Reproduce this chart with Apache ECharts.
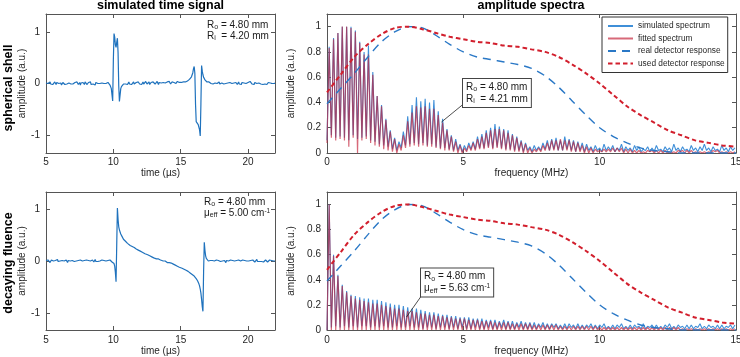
<!DOCTYPE html>
<html><head><meta charset="utf-8">
<script src="https://cdn.jsdelivr.net/npm/echarts@6/dist/echarts.min.js"></script>
<style>html,body{margin:0;padding:0;background:#fff}#c{width:740px;height:357px}</style>
</head><body><div id="c"></div>
<script>
// ---------- time signals (t from 5.00 µs, 0.05 µs step) ----------
const timeStart = 5, timeStep = 0.05;
const shellSignal = [
 0.01,-0.02,0.02,0.00,-0.03,0.01,0.03,-0.01,0.00,0.02,-0.02,0.01,-0.01,0.03,0.00,-0.02,0.02,-0.01,0.01,0.00,
 -0.02,0.02,0.01,-0.03,0.00,0.02,-0.01,0.03,-0.02,0.00,0.01,-0.01,0.02,-0.03,0.01,0.00,0.03,-0.01,0.00,0.02,
 -0.01,0.01,-0.02,0.02,0.00,-0.01,0.03,0.01,-0.02,0.00,0.02,-0.03,0.01,0.00,-0.01,0.02,0.01,-0.02,0.03,0.00,
 0.01,-0.02,0.00,0.02,-0.01,0.01,0.03,-0.02,0.00,0.01,-0.01,0.02,0.00,-0.03,0.02,0.01,-0.01,0.00,0.02,-0.02,
 0.00,0.02,-0.01,0.01,-0.02,0.03,0.00,-0.01,0.02,0.00,-0.02,0.01,0.02,-0.01,0.00,-0.03,-0.05,-0.10,-0.22,-0.34,
 0.45,0.97,0.90,0.75,0.70,0.80,0.88,0.60,-0.05,-0.35,-0.22,-0.10,-0.06,-0.03,-0.04,-0.01,-0.02,0.01,-0.01,0.02,
 0.00,-0.02,0.01,0.03,-0.01,0.00,0.02,-0.02,0.01,0.00,0.03,-0.01,0.01,-0.02,0.02,0.00,-0.01,0.03,0.01,-0.01,
 0.02,0.00,-0.02,0.01,0.03,-0.01,0.00,0.02,0.04,0.01,-0.01,0.02,0.00,0.03,-0.02,0.01,0.02,0.00,-0.01,0.03,
 0.01,0.03,-0.01,0.02,0.00,0.04,0.01,-0.02,0.02,0.03,0.00,0.01,-0.01,0.03,0.02,0.00,0.04,0.01,-0.01,0.02,
 0.03,0.00,0.02,0.04,0.01,-0.01,0.02,0.03,0.00,0.04,0.02,0.01,0.03,0.00,0.02,0.04,0.01,0.03,0.02,0.00,
 0.03,0.02,0.04,0.01,0.03,0.02,0.05,0.03,0.04,0.06,0.05,0.07,0.06,0.08,0.09,0.11,0.13,0.16,0.21,0.29,
 0.33,0.20,-0.40,-0.74,-0.72,-0.76,-0.80,-0.78,-0.90,-1.02,-0.40,0.35,0.24,0.17,0.12,0.09,0.07,0.05,0.06,0.03,
 0.04,0.02,0.03,0.01,0.03,0.00,0.02,0.01,-0.01,0.02,0.00,0.01,-0.02,0.02,0.00,-0.01,0.01,0.03,-0.01,0.00,
 -0.02,0.01,0.00,0.02,-0.01,0.01,-0.03,0.00,0.02,-0.01,0.01,0.00,-0.02,0.02,0.01,-0.01,0.00,0.02,-0.02,0.01,
 0.00,-0.01,0.02,0.00,-0.02,0.01,0.03,-0.01,0.00,0.01,-0.02,0.02,0.00,-0.01,0.01,-0.02,0.02,0.00,0.01,-0.01,
 0.02,0.00,-0.01,0.04,0.06,0.02,-0.01,0.01,0.00,-0.02,0.02,0.01,-0.01,0.00,0.02,-0.02,0.01,0.00,0.03,-0.01,
 0.00,0.02,-0.02,0.01,0.00,-0.01,0.02,0.00,-0.02,0.01,0.02,-0.01,0.00,0.01,-0.02,0.02,0.00,-0.01,0.01,0.00,
 0.01
];
const fluenceSignal = [
 0.01,-0.02,0.00,0.02,-0.01,0.01,-0.03,0.00,0.02,-0.01,0.01,0.00,-0.02,0.02,0.01,-0.01,0.00,0.03,-0.01,0.01,
 -0.02,0.00,0.02,-0.01,0.01,0.03,-0.02,0.00,0.01,-0.01,0.02,0.00,-0.03,0.01,0.02,-0.01,0.00,0.02,-0.02,0.01,
 0.00,0.02,-0.01,0.01,-0.02,0.00,0.03,-0.01,0.01,0.00,-0.02,0.02,0.01,-0.01,0.00,0.02,-0.03,0.01,0.00,-0.01,
 0.02,0.00,-0.01,0.01,0.03,-0.02,0.00,0.01,-0.01,0.02,0.00,-0.02,0.01,0.03,-0.01,0.00,0.02,-0.01,0.01,-0.02,
 0.00,0.01,-0.02,0.02,0.00,-0.01,0.01,0.03,-0.01,0.00,0.02,-0.02,0.01,0.00,-0.01,0.02,-0.01,0.00,-0.02,0.01,
 -0.03,-0.05,-0.10,-0.22,-0.40,0.30,1.02,0.80,0.66,0.60,0.56,0.52,0.49,0.47,0.44,0.42,0.41,0.39,0.38,0.36,
 0.36,0.34,0.34,0.32,0.32,0.30,0.31,0.29,0.28,0.28,0.27,0.26,0.25,0.25,0.23,0.23,0.22,0.21,0.20,0.20,
 0.19,0.19,0.18,0.17,0.17,0.16,0.16,0.14,0.15,0.13,0.13,0.12,0.11,0.12,0.10,0.10,0.09,0.08,0.08,0.07,
 0.06,0.07,0.05,0.05,0.04,0.05,0.03,0.04,0.02,0.03,0.02,0.02,0.01,0.01,0.00,0.01,-0.01,0.00,-0.02,-0.02,
 -0.03,-0.02,-0.04,-0.03,-0.04,-0.05,-0.04,-0.06,-0.05,-0.06,-0.07,-0.07,-0.08,-0.08,-0.09,-0.10,-0.10,-0.11,-0.12,-0.12,
 -0.13,-0.13,-0.14,-0.15,-0.15,-0.16,-0.17,-0.17,-0.18,-0.19,-0.19,-0.20,-0.21,-0.22,-0.23,-0.24,-0.25,-0.26,-0.27,-0.28,
 -0.29,-0.31,-0.32,-0.34,-0.36,-0.38,-0.41,-0.44,-0.48,-0.54,-0.62,-0.74,-0.88,-0.97,-0.20,0.36,0.20,0.10,0.05,0.03,
 0.02,0.00,0.02,-0.01,0.01,0.00,-0.02,0.01,0.02,-0.01,0.00,0.01,-0.02,0.02,0.00,-0.01,0.01,0.00,0.02,-0.01,
 0.01,-0.02,0.00,0.02,-0.01,0.01,0.00,-0.03,0.01,0.02,-0.01,0.00,0.01,-0.02,0.02,0.00,-0.01,0.01,0.03,-0.01,
 0.00,0.02,-0.01,0.01,-0.02,0.00,0.02,-0.01,0.01,0.00,-0.02,0.01,0.02,-0.01,0.00,0.01,-0.02,0.02,0.00,-0.01,
 0.01,0.00,-0.02,0.02,0.01,-0.01,0.00,0.02,-0.01,0.01,-0.02,0.00,0.01,0.03,-0.01,0.00,0.02,-0.01,0.01,0.00,
 -0.01,0.02,0.00,-0.02,0.01,0.00,0.02,-0.01,0.01,-0.02,0.00,0.01,0.02,-0.01,0.00,0.01,-0.02,0.01,0.00,0.01,
 0.00
];

// ---------- spectra: troughs at 0.16k MHz, peaks at 0.08+0.16k MHz ----------
const freqStep = 0.08;
const shellSimPeaks = [
 0.84,0.91,0.95,1.00,1.00,1.00,0.97,0.88,0.80,0.85,
 0.64,0.45,0.38,0.27,0.18,0.12,0.09,0.17,0.29,0.38,
 0.44,0.41,0.43,0.40,0.42,0.33,0.27,0.19,0.14,0.11,
 0.07,0.06,0.08,0.09,0.13,0.15,0.18,0.20,0.23,0.21,
 0.19,0.18,0.15,0.13,0.10,0.08,0.05,0.06,0.05,0.08,
 0.10,0.11,0.12,0.10,0.13,0.11,0.10,0.09,0.08,0.07,
 0.05,0.06,0.04,0.07,0.05,0.06,0.04,0.07,0.05,0.04,
 0.06,0.05,0.03,0.05,0.04,0.06,0.03,0.05,0.04,0.07,
 0.04,0.05,0.03,0.06,0.04,0.05,0.07,0.04,0.05,0.03,
 0.06,0.04,0.05,0.04
];
const shellSimTroughs = [
 0.10,0.14,0.12,0.13,0.12,0.10,0.14,0.11,0.12,0.13,
 0.10,0.09,0.07,0.06,0.05,0.03,0.02,0.04,0.06,0.07,
 0.08,0.07,0.08,0.06,0.07,0.05,0.04,0.04,0.03,0.02,
 0.02,0.01,0.02,0.03,0.03,0.04,0.04,0.05,0.04,0.05,
 0.04,0.03,0.03,0.02,0.02,0.01,0.02,0.01,0.02,0.02,
 0.03,0.02,0.03,0.02,0.02,0.03,0.02,0.01,0.02,0.01,
 0.02,0.01,0.02,0.01,0.02,0.02,0.01,0.02,0.01,0.02,
 0.01,0.02,0.01,0.02,0.01,0.01,0.02,0.01,0.02,0.01,
 0.02,0.01,0.02,0.01,0.02,0.01,0.02,0.02,0.01,0.02,
 0.01,0.02,0.01,0.02
];
const shellFitPeaks = [
 0.83,0.90,0.95,1.00,1.00,0.99,0.96,0.87,0.78,0.78,
 0.62,0.45,0.37,0.26,0.17,0.11,0.07,0.14,0.25,0.32,
 0.37,0.36,0.37,0.35,0.35,0.30,0.24,0.18,0.13,0.09,
 0.06,0.04,0.06,0.08,0.11,0.13,0.16,0.18,0.19,0.19,
 0.18,0.16,0.14,0.12,0.09,0.07,0.04,0.03,0.04,0.06,
 0.08,0.10,0.10,0.11,0.10,0.10,0.09,0.08,0.06,0.05,
 0.04,0.03,0.02,0.03,0.03,0.04,0.04,0.04,0.03,0.03,
 0.02,0.02,0.01,0.02,0.02,0.02,0.02,0.02,0.01,0.01,
 0.02,0.02,0.02,0.02,0.01,0.01,0.01,0.01,0.02,0.02,
 0.01,0.01,0.01,0.01
];
const shellFitTroughs = [
 0.08,0.12,0.10,0.11,0.10,0.05,0.12,0.00,0.10,0.11,
 0.08,0.06,0.05,0.03,0.02,0.01,0.00,0.02,0.04,0.05,
 0.06,0.05,0.06,0.05,0.05,0.04,0.03,0.02,0.02,0.01,
 0.00,0.00,0.01,0.02,0.02,0.03,0.03,0.04,0.03,0.04,
 0.03,0.02,0.02,0.01,0.01,0.00,0.00,0.00,0.01,0.01,
 0.02,0.02,0.02,0.02,0.02,0.02,0.01,0.01,0.01,0.00,
 0.00,0.00,0.01,0.01,0.01,0.01,0.01,0.01,0.00,0.00,
 0.00,0.00,0.00,0.00,0.01,0.00,0.00,0.00,0.00,0.00,
 0.00,0.01,0.00,0.00,0.00,0.00,0.00,0.00,0.00,0.01,
 0.00,0.00,0.00,0.00
];
const fluenceSimPeaks = [
 1.00,0.60,0.44,0.36,0.31,0.28,0.27,0.26,0.25,0.25,
 0.24,0.24,0.23,0.22,0.21,0.20,0.20,0.19,0.18,0.17,
 0.17,0.16,0.15,0.14,0.14,0.13,0.12,0.12,0.11,0.11,
 0.10,0.10,0.10,0.09,0.09,0.09,0.08,0.08,0.08,0.07,
 0.08,0.07,0.07,0.06,0.07,0.06,0.06,0.06,0.05,0.06,
 0.05,0.05,0.05,0.04,0.05,0.05,0.04,0.05,0.04,0.04,
 0.05,0.04,0.04,0.05,0.03,0.04,0.04,0.05,0.03,0.04,
 0.04,0.03,0.05,0.03,0.04,0.04,0.03,0.04,0.05,0.03,
 0.04,0.03,0.04,0.04,0.03,0.05,0.03,0.04,0.03,0.04,
 0.04,0.03,0.04,0.04
];
const fluenceSimTroughs = [
 0.00,0.02,0.03,0.02,0.03,0.02,0.03,0.02,0.03,0.03,
 0.02,0.03,0.02,0.03,0.02,0.02,0.03,0.02,0.02,0.03,
 0.02,0.02,0.01,0.02,0.02,0.01,0.02,0.02,0.01,0.02,
 0.01,0.02,0.01,0.01,0.02,0.01,0.01,0.02,0.01,0.01,
 0.02,0.01,0.01,0.01,0.02,0.01,0.01,0.01,0.01,0.02,
 0.01,0.01,0.02,0.01,0.01,0.01,0.02,0.01,0.01,0.01,
 0.02,0.01,0.01,0.02,0.01,0.01,0.01,0.02,0.01,0.01,
 0.01,0.02,0.01,0.01,0.02,0.01,0.01,0.01,0.02,0.01,
 0.01,0.02,0.01,0.01,0.01,0.02,0.01,0.01,0.02,0.01,
 0.01,0.01,0.02,0.01
];
const fluenceFitPeaks = [
 1.00,0.59,0.43,0.35,0.30,0.27,0.25,0.24,0.23,0.22,
 0.21,0.21,0.20,0.19,0.18,0.17,0.17,0.16,0.15,0.15,
 0.14,0.13,0.13,0.12,0.12,0.11,0.11,0.10,0.10,0.09,
 0.09,0.09,0.08,0.08,0.08,0.07,0.07,0.07,0.06,0.06,
 0.06,0.06,0.05,0.05,0.05,0.05,0.05,0.04,0.04,0.04,
 0.04,0.04,0.04,0.03,0.03,0.03,0.03,0.03,0.03,0.03,
 0.03,0.03,0.02,0.02,0.02,0.02,0.02,0.02,0.02,0.02,
 0.02,0.02,0.02,0.02,0.02,0.02,0.02,0.02,0.02,0.02,
 0.02,0.01,0.01,0.01,0.01,0.01,0.01,0.01,0.01,0.01,
 0.01,0.01,0.01,0.01
];
const fluenceFitTroughs = [
 0,0,0,0,0,0,0,0,0,0, 0,0,0,0,0,0,0,0,0,0,
 0,0,0,0,0,0,0,0,0,0, 0,0,0,0,0,0,0,0,0,0,
 0,0,0,0,0,0,0,0,0,0, 0,0,0,0,0,0,0,0,0,0,
 0,0,0,0,0,0,0,0,0,0, 0,0,0,0,0,0,0,0,0,0,
 0,0,0,0,0,0,0,0,0,0, 0,0,0,0
];

// ---------- detector responses ----------
const detFreq = [0,0.5,1,1.5,2,2.5,3,3.5,4,4.5,5,5.5,6,6.5,7,7.5,8,8.5,9,9.5,10,10.5,11,11.5,12,12.5,13,13.5,14,14.5,15];
const realDetector = [0.39,0.51,0.63,0.76,0.88,0.96,1.00,0.99,0.93,0.86,0.80,0.76,0.74,0.72,0.70,0.67,0.61,0.52,0.41,0.30,0.20,0.13,0.08,0.04,0.02,0.01,0.00,0.00,0.00,0.00,0.00];
const usedDetector = [0.48,0.62,0.76,0.86,0.94,0.99,1.00,0.98,0.95,0.92,0.90,0.88,0.87,0.85,0.84,0.82,0.80,0.76,0.70,0.63,0.55,0.46,0.37,0.30,0.24,0.18,0.14,0.10,0.08,0.06,0.05];

// ---------- tick labels ----------
const timeTicks = [5,10,15,20];
const timeAmpTicks = [-1,0,1];
const freqTicks = [0,5,10,15];
const specAmpTicks = [0,0.2,0.4,0.6,0.8,1];

// ---------- build ----------
const FONT = 'Liberation Sans';
const timeData = arr => arr.map((v,i)=>[+(timeStart+i*timeStep).toFixed(2), v]);
function zigzag(troughs, peaks){
  const out=[];
  for(let k=0;k<peaks.length;k++){
    out.push([+(2*k*freqStep).toFixed(2), troughs[k]]);
    out.push([+((2*k+1)*freqStep).toFixed(2), peaks[k]]);
  }
  return out;
}
const detData = vals => detFreq.map((f,i)=>[f, vals[i]]);

const grids = [
  {left:46, top:14, width:229, height:139, outerBoundsMode:'none'},
  {left:46, top:192, width:229, height:138, outerBoundsMode:'none'},
  {left:327, top:14, width:409, height:139, outerBoundsMode:'none'},
  {left:327, top:192, width:409, height:138, outerBoundsMode:'none'}
];
const lineCol = '#555';
function axis(gi, pos, min, max, ticks, main, name, nameGap, labelMargin){
  return {
    type:'value', gridIndex:gi, position:pos, min:min, max:max,
    axisLine:{show:true, onZero:false, lineStyle:{color:lineCol, width:1}},
    axisTick:{show:true, inside:true, length:4, customValues:ticks, lineStyle:{color:lineCol, width:1}},
    axisLabel:{show:main, customValues:ticks, margin:labelMargin, fontFamily:FONT, fontSize:10, color:'#262626'},
    splitLine:{show:false},
    name: main ? name : '', nameLocation:'middle', nameGap:nameGap,
    nameTextStyle:{fontFamily:FONT, fontSize:10, color:'#262626'}
  };
}
const xAxes = [
  axis(0,'bottom',5,22,timeTicks,true,'time (µs)',15,4),
  axis(1,'bottom',5,22,timeTicks,true,'time (µs)',16.5,5),
  axis(2,'bottom',0,15,freqTicks,true,'frequency (MHz)',12,4),
  axis(3,'bottom',0,15,freqTicks,true,'frequency (MHz)',16.5,5),
  axis(0,'top',5,22,timeTicks,false),
  axis(1,'top',5,22,timeTicks,false),
  axis(2,'top',0,15,freqTicks,false),
  axis(3,'top',0,15,freqTicks,false)
];
const yAxes = [
  axis(0,'left',-1.35,1.35,timeAmpTicks,true,'amplitude (a.u.)',16.5,6),
  axis(1,'left',-1.33,1.33,timeAmpTicks,true,'amplitude (a.u.)',16.5,6),
  axis(2,'left',0,1.1,specAmpTicks,true,'amplitude (a.u.)',21.5,6),
  axis(3,'left',0,1.1,specAmpTicks,true,'amplitude (a.u.)',21.5,6),
  axis(0,'right',-1.35,1.35,timeAmpTicks,false),
  axis(1,'right',-1.33,1.33,timeAmpTicks,false),
  axis(2,'right',0,1.1,specAmpTicks,false),
  axis(3,'right',0,1.1,specAmpTicks,false)
];

const SIM = {color:'#3f8fd8', width:1.1};
const FIT = {color:'#c4223a', width:1.2, opacity:0.68};
const REAL = {color:'#2a78c6', width:1.4, type:[8,6]};
const USED = {color:'#d21f2d', width:2, type:[4.5,3]};
function ser(name, gi, data, ls, smooth){
  return {name:name, type:'line', xAxisIndex:gi, yAxisIndex:gi, data:data, symbol:'none',
    showSymbol:false, smooth: smooth||false, lineStyle:ls, itemStyle:{color:ls.color},
    animation:false, silent:true, emphasis:{disabled:true}};
}
const series = [
  ser('shell signal',0,timeData(shellSignal),{color:'#1f72bd', width:1.2}),
  ser('fluence signal',1,timeData(fluenceSignal),{color:'#1f72bd', width:1.2}),
  ser('simulated spectrum',2,zigzag(shellSimTroughs,shellSimPeaks),SIM),
  ser('fitted spectrum',2,zigzag(shellFitTroughs,shellFitPeaks),FIT),
  ser('real detector response',2,detData(realDetector),REAL,0.3),
  ser('used detector response',2,detData(usedDetector),USED,0.3),
  ser('simulated spectrum',3,zigzag(fluenceSimTroughs,fluenceSimPeaks),SIM),
  ser('fitted spectrum',3,zigzag(fluenceFitTroughs,fluenceFitPeaks),FIT),
  ser('real detector response',3,detData(realDetector),REAL,0.3),
  ser('used detector response',3,detData(usedDetector),USED,0.3)
];

const rich = {
  n:{fontFamily:FONT, fontSize:10, fill:'#1a1a1a', color:'#1a1a1a', lineHeight:12},
  s:{fontFamily:FONT, fontSize:7, fill:'#1a1a1a', color:'#1a1a1a', lineHeight:12, verticalAlign:'bottom'},
  p:{fontFamily:FONT, fontSize:6.5, fill:'#1a1a1a', color:'#1a1a1a', lineHeight:12, verticalAlign:'top'}
};
const richTight = JSON.parse(JSON.stringify(rich));
Object.values(richTight).forEach(r=>r.lineHeight=11);

function txt(x,y,text,opts){
  return Object.assign({type:'text', x:x, y:y, silent:true, z:100,
    style:Object.assign({text:text, fill:'#000', textAlign:'center', align:'center', textVerticalAlign:'middle', verticalAlign:'middle',
      font:'bold 12.5px "Liberation Sans"'}, opts&&opts.style)}, opts&&opts.el);
}
const graphic = [
  txt(160.5,6,'simulated time signal'),
  txt(531,6,'amplitude spectra'),
  txt(8.5,88,'spherical shell',{el:{rotation:Math.PI/2}}),
  txt(8.5,263,'decaying fluence',{el:{rotation:Math.PI/2}}),
  {type:'text', x:207, y:19.5, silent:true, z:100, style:{text:'{n|R}{s|o}{n| = 4.80 mm}\n{n|R}{s|i}{n|  = 4.20 mm}', rich:richTight, textAlign:'left', align:'left', textVerticalAlign:'top', verticalAlign:'top'}},
  {type:'text', x:204, y:197, silent:true, z:100, style:{text:'{n|R}{s|o}{n| = 4.80 mm}\n{n|μ}{s|eff}{n| = 5.00 cm}{p|-1}', rich:richTight, textAlign:'left', align:'left', textVerticalAlign:'top', verticalAlign:'top'}},
  {type:'line', silent:true, z:99, shape:{x1:463.5,y1:104,x2:441.5,y2:122}, style:{stroke:'#222', lineWidth:0.8}},
  {type:'line', silent:true, z:99, shape:{x1:422,y1:295,x2:406.5,y2:317}, style:{stroke:'#222', lineWidth:0.8}},
  {type:'text', x:463, y:79, silent:true, z:100, style:{text:'{n|R}{s|o}{n| = 4.80 mm}\n{n|R}{s|i}{n|  = 4.21 mm}', rich:rich, textAlign:'left', align:'left', textVerticalAlign:'top', verticalAlign:'top', backgroundColor:'#fff', borderColor:'#444', borderWidth:1, padding:[2,3,2,3]}},
  {type:'text', x:421, y:268.5, silent:true, z:100, style:{text:'{n|R}{s|o}{n| = 4.80 mm}\n{n|μ}{s|eff}{n| = 5.63 cm}{p|-1}', rich:rich, textAlign:'left', align:'left', textVerticalAlign:'top', verticalAlign:'top', backgroundColor:'#fff', borderColor:'#444', borderWidth:1, padding:[2,3,2,3]}}
];

const chart = echarts.init(document.getElementById('c'), null, {renderer:'canvas', width:740, height:357});
chart.setOption({
  animation:false,
  backgroundColor:'#fff',
  grid:grids,
  xAxis:xAxes,
  yAxis:yAxes,
  legend:{
    data:['simulated spectrum','fitted spectrum','real detector response','used detector response'],
    orient:'vertical', left:602, top:17, padding:[5,3,5,5], itemGap:4.5, itemWidth:25, itemHeight:9,
    borderColor:'#333', borderWidth:1, backgroundColor:'#fff', selectedMode:false, z:50,
    itemStyle:{opacity:0, borderWidth:0},
    textStyle:{fontFamily:FONT, fontSize:8.3, color:'#262626'}
  },
  series:series,
  graphic:graphic
});
</script></body></html>
